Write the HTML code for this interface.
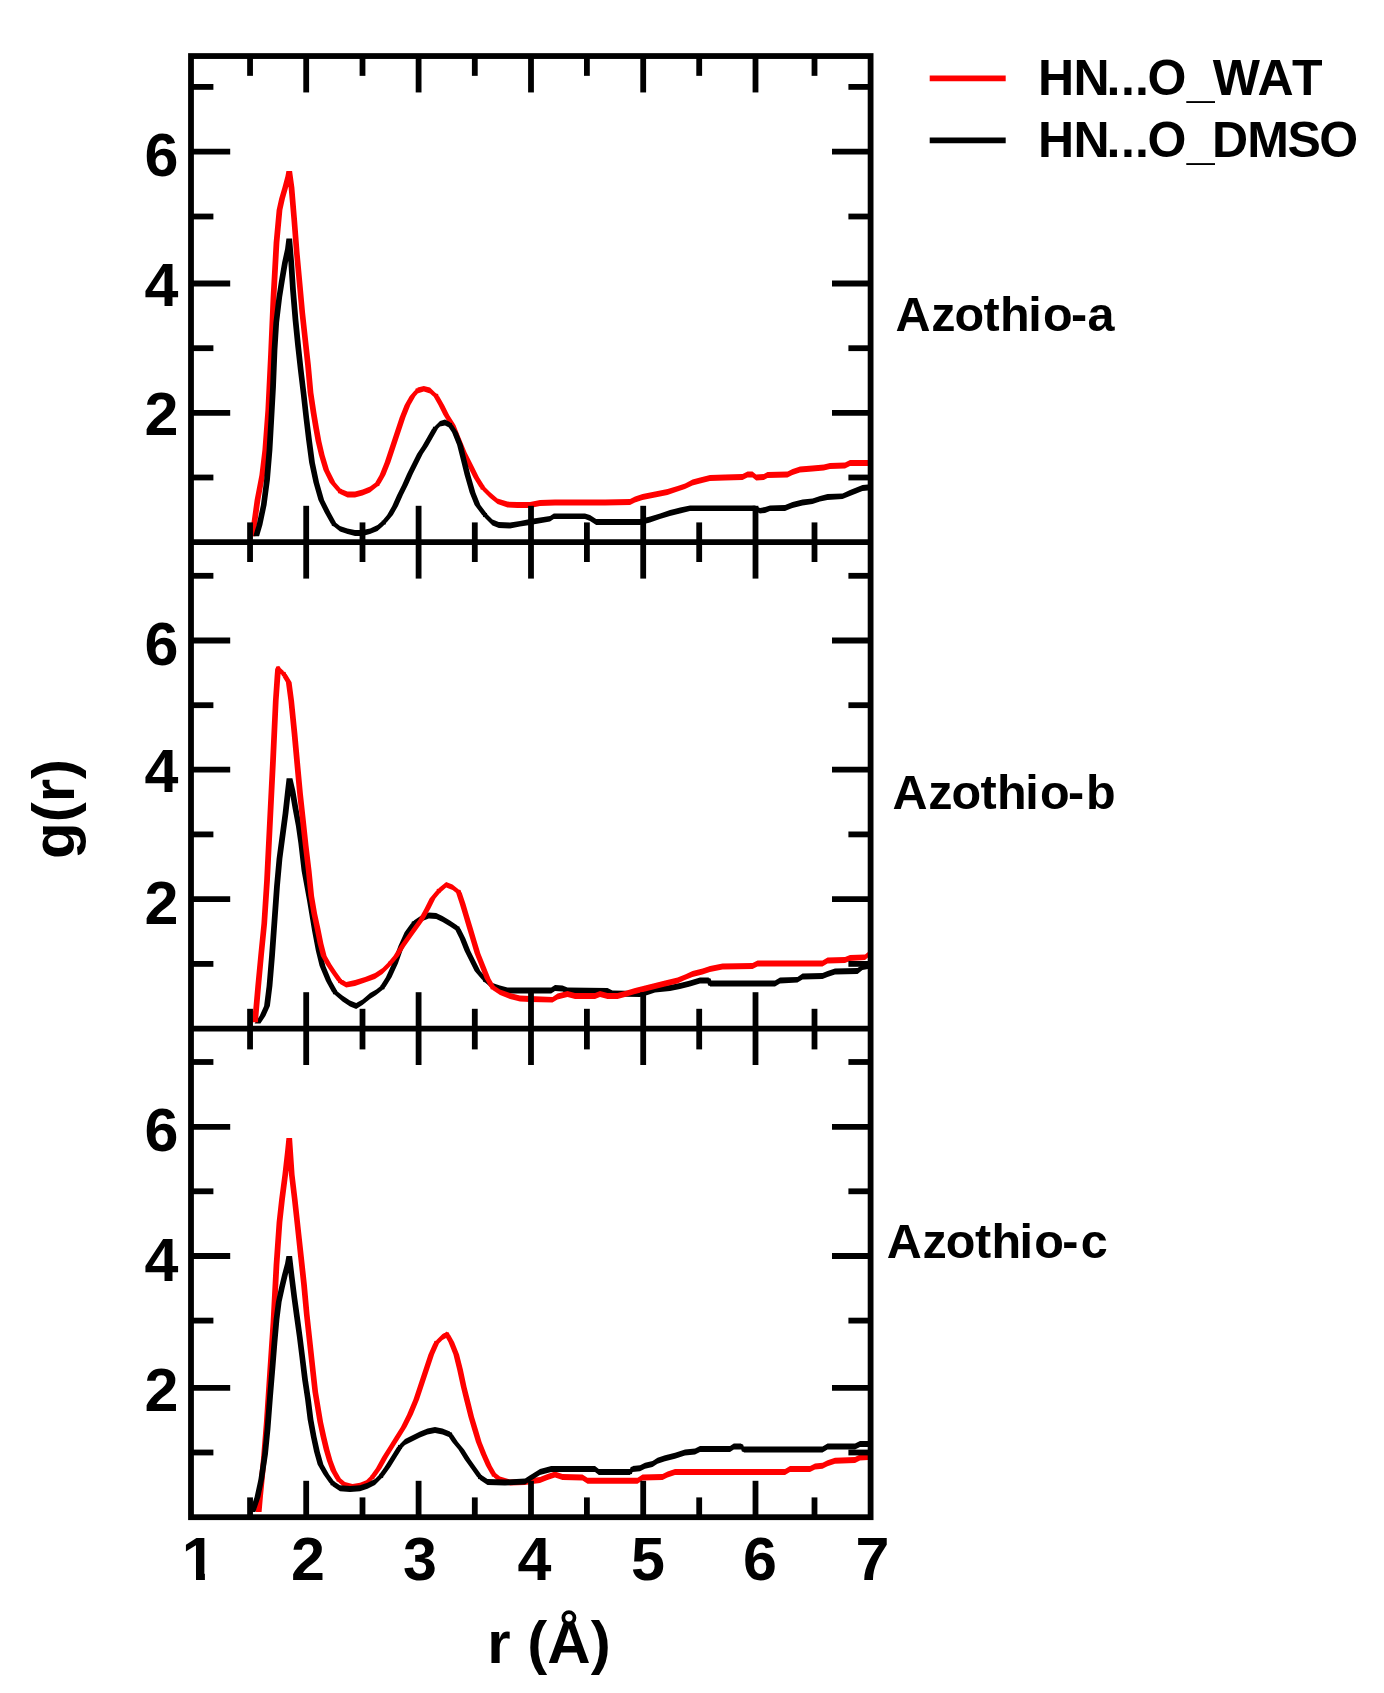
<!DOCTYPE html>
<html lang="en"><head><meta charset="utf-8"><title>g(r) HN...O radial distribution</title>
<style>html,body{margin:0;padding:0;background:#fff}svg{display:block}text{font-family:"Liberation Sans",sans-serif;font-weight:bold;fill:#000}</style>
</head><body>
<svg width="1384" height="1693" viewBox="0 0 1384 1693">
<rect x="0" y="0" width="1384" height="1693" fill="#fff"/>
<defs><clipPath id="c1"><rect x="191.0" y="56.0" width="679.6" height="486.2"/></clipPath>
<clipPath id="c2"><rect x="191.0" y="542.2" width="679.6" height="486.4"/></clipPath>
<clipPath id="c3"><rect x="191.0" y="1028.6" width="679.6" height="488.6"/></clipPath></defs>
<g clip-path="url(#c1)"><path d="M254.6 500.0L260.4 500.0L255.4 536.2L249.6 536.2ZM259.4 475.0L265.1 475.0L260.4 500.0L254.6 500.0ZM262.4 450.0L268.1 450.0L265.1 475.0L259.4 475.0ZM265.4 410.0L271.1 410.0L268.1 450.0L262.4 450.0ZM268.1 355.0L273.9 355.0L271.1 410.0L265.4 410.0ZM270.6 297.5L276.4 297.5L273.9 355.0L268.1 355.0ZM273.6 242.5L279.4 242.5L276.4 297.5L270.6 297.5ZM276.6 210.0L282.4 210.0L279.4 242.5L273.6 242.5ZM279.1 198.8L284.9 198.8L282.4 210.0L276.6 210.0ZM282.4 187.5L288.1 187.5L284.9 198.8L279.1 198.8ZM285.4 176.2L291.1 176.2L288.1 187.5L282.4 187.5ZM286.4 171.0L292.1 171.0L291.1 176.2L285.4 176.2ZM286.4 171.0L292.1 171.0L294.4 187.5L288.6 187.5ZM288.6 187.5L294.4 187.5L297.1 220.0L291.4 220.0ZM291.4 220.0L297.1 220.0L299.6 252.5L293.9 252.5ZM293.9 252.5L299.6 252.5L302.6 285.0L296.9 285.0ZM296.9 285.0L302.6 285.0L305.1 312.5L299.4 312.5ZM299.4 312.5L305.1 312.5L308.1 340.0L302.4 340.0ZM302.4 340.0L308.1 340.0L310.9 365.0L305.1 365.0ZM305.1 365.0L310.9 365.0L313.4 392.5L307.6 392.5ZM307.6 392.5L313.4 392.5L316.4 412.5L310.6 412.5ZM310.6 412.5L316.4 412.5L318.9 427.5L313.1 427.5ZM313.1 427.5L318.9 427.5L321.4 441.2L315.6 441.2ZM315.6 441.2L321.4 441.2L324.6 455.0L318.9 455.0ZM318.9 455.0L324.6 455.0L329.1 470.0L323.4 470.0ZM323.4 470.0L329.1 470.0L335.4 482.5L329.6 482.5ZM329.6 482.5L335.4 482.5L342.9 491.2L337.1 491.2ZM347.5 491.6L347.5 497.4L340.0 494.1L340.0 488.4ZM337.6 491.2a2.44 2.44 0 1 1 4.87 0a2.44 2.44 0 1 1 -4.87 0ZM355.0 491.6L355.0 497.4L347.5 497.4L347.5 491.6ZM362.5 489.6L362.5 495.4L355.0 497.4L355.0 491.6ZM370.0 486.6L370.0 492.4L362.5 495.4L362.5 489.6ZM377.5 480.9L377.5 486.6L370.0 492.4L370.0 486.6ZM379.6 475.0L385.4 475.0L380.4 483.8L374.6 483.8ZM375.1 483.8a2.44 2.44 0 1 1 4.87 0a2.44 2.44 0 1 1 -4.87 0ZM384.6 462.5L390.4 462.5L385.4 475.0L379.6 475.0ZM389.6 447.5L395.4 447.5L390.4 462.5L384.6 462.5ZM394.6 432.5L400.4 432.5L395.4 447.5L389.6 447.5ZM399.6 417.5L405.4 417.5L400.4 432.5L394.6 432.5ZM404.6 405.0L410.4 405.0L405.4 417.5L399.6 417.5ZM409.6 396.2L415.4 396.2L410.4 405.0L404.6 405.0ZM414.6 390.5L420.4 390.5L415.4 396.2L409.6 396.2ZM423.8 385.9L423.8 391.6L417.5 393.4L417.5 387.6ZM415.1 390.5a2.44 2.44 0 1 1 4.87 0a2.44 2.44 0 1 1 -4.87 0ZM430.0 387.6L430.0 393.4L423.8 391.6L423.8 385.9ZM436.2 393.4L436.2 399.1L430.0 393.4L430.0 387.6ZM433.4 396.2L439.1 396.2L444.1 405.0L438.4 405.0ZM433.8 396.2a2.44 2.44 0 1 1 4.87 0a2.44 2.44 0 1 1 -4.87 0ZM438.4 405.0L444.1 405.0L449.1 415.0L443.4 415.0ZM443.4 415.0L449.1 415.0L455.4 425.0L449.6 425.0ZM449.6 425.0L455.4 425.0L460.4 437.5L454.6 437.5ZM454.6 437.5L460.4 437.5L466.6 452.5L460.9 452.5ZM460.9 452.5L466.6 452.5L472.9 465.0L467.1 465.0ZM467.1 465.0L472.9 465.0L479.1 477.5L473.4 477.5ZM473.4 477.5L479.1 477.5L485.4 487.5L479.6 487.5ZM490.0 492.1L490.0 497.9L482.5 490.4L482.5 484.6ZM480.1 487.5a2.44 2.44 0 1 1 4.87 0a2.44 2.44 0 1 1 -4.87 0ZM497.5 498.4L497.5 504.1L490.0 497.9L490.0 492.1ZM507.5 501.6L507.5 507.4L497.5 504.1L497.5 498.4ZM517.5 502.1L517.5 507.9L507.5 507.4L507.5 501.6ZM530.0 502.1L530.0 507.9L517.5 507.9L517.5 502.1ZM540.0 500.1L540.0 505.9L530.0 507.9L530.0 502.1ZM555.0 499.6L555.0 505.4L540.0 505.9L540.0 500.1ZM580.0 499.6L580.0 505.4L555.0 505.4L555.0 499.6ZM605.0 499.6L605.0 505.4L580.0 505.4L580.0 499.6ZM630.0 499.1L630.0 504.9L605.0 505.4L605.0 499.6ZM635.0 496.6L635.0 502.4L630.0 504.9L630.0 499.1ZM642.5 494.1L642.5 499.9L635.0 502.4L635.0 496.6ZM655.0 491.6L655.0 497.4L642.5 499.9L642.5 494.1ZM667.5 489.1L667.5 494.9L655.0 497.4L655.0 491.6ZM677.5 485.9L677.5 491.6L667.5 494.9L667.5 489.1ZM685.0 483.4L685.0 489.1L677.5 491.6L677.5 485.9ZM692.5 479.6L692.5 485.4L685.0 489.1L685.0 483.4ZM700.0 477.6L700.0 483.4L692.5 485.4L692.5 479.6ZM710.0 475.1L710.0 480.9L700.0 483.4L700.0 477.6ZM725.0 474.6L725.0 480.4L710.0 480.9L710.0 475.1ZM742.5 474.1L742.5 479.9L725.0 480.4L725.0 474.6ZM747.5 471.6L747.5 477.4L742.5 479.9L742.5 474.1ZM752.5 471.6L752.5 477.4L747.5 477.4L747.5 471.6ZM756.2 474.6L756.2 480.4L752.5 477.4L752.5 471.6ZM763.8 474.1L763.8 479.9L756.2 480.4L756.2 474.6ZM767.5 472.1L767.5 477.9L763.8 479.9L763.8 474.1ZM787.5 471.6L787.5 477.4L767.5 477.9L767.5 472.1ZM792.5 469.1L792.5 474.9L787.5 477.4L787.5 471.6ZM800.0 466.6L800.0 472.4L792.5 474.9L792.5 469.1ZM812.5 465.6L812.5 471.4L800.0 472.4L800.0 466.6ZM823.8 464.6L823.8 470.4L812.5 471.4L812.5 465.6ZM830.0 463.1L830.0 468.9L823.8 470.4L823.8 464.6ZM845.0 462.6L845.0 468.4L830.0 468.9L830.0 463.1ZM850.0 460.1L850.0 465.9L845.0 468.4L845.0 462.6ZM868.0 460.1L868.0 465.9L850.0 465.9L850.0 460.1Z" fill="#f00" stroke="none"/><path d="M256.6 525.0L262.4 525.0L259.1 536.2L253.3 536.2ZM260.9 505.0L266.6 505.0L262.4 525.0L256.6 525.0ZM264.1 480.0L269.9 480.0L266.6 505.0L260.9 505.0ZM266.6 450.0L272.4 450.0L269.9 480.0L264.1 480.0ZM268.4 420.0L274.1 420.0L272.4 450.0L266.6 450.0ZM270.1 387.5L275.9 387.5L274.1 420.0L268.4 420.0ZM271.6 350.0L277.4 350.0L275.9 387.5L270.1 387.5ZM273.4 322.5L279.1 322.5L277.4 350.0L271.6 350.0ZM276.4 297.5L282.1 297.5L279.1 322.5L273.4 322.5ZM279.1 280.0L284.9 280.0L282.1 297.5L276.4 297.5ZM282.1 262.5L287.9 262.5L284.9 280.0L279.1 280.0ZM285.1 248.8L290.9 248.8L287.9 262.5L282.1 262.5ZM286.4 238.6L292.1 238.6L290.9 248.8L285.1 248.8ZM286.4 238.6L292.1 238.6L294.1 262.5L288.4 262.5ZM288.4 262.5L294.1 262.5L295.9 290.0L290.1 290.0ZM290.1 290.0L295.9 290.0L298.4 320.0L292.6 320.0ZM292.6 320.0L298.4 320.0L300.9 345.0L295.1 345.0ZM295.1 345.0L300.9 345.0L303.6 370.0L297.9 370.0ZM297.9 370.0L303.6 370.0L306.6 395.0L300.9 395.0ZM300.9 395.0L306.6 395.0L309.1 417.5L303.4 417.5ZM303.4 417.5L309.1 417.5L311.9 440.0L306.1 440.0ZM306.1 440.0L311.9 440.0L314.9 462.5L309.1 462.5ZM309.1 462.5L314.9 462.5L319.1 482.5L313.4 482.5ZM313.4 482.5L319.1 482.5L324.1 500.0L318.4 500.0ZM318.4 500.0L324.1 500.0L330.4 512.5L324.6 512.5ZM324.6 512.5L330.4 512.5L336.6 523.8L330.9 523.8ZM340.0 525.9L340.0 531.6L333.8 526.6L333.8 520.9ZM331.3 523.8a2.44 2.44 0 1 1 4.87 0a2.44 2.44 0 1 1 -4.87 0ZM347.5 528.4L347.5 534.1L340.0 531.6L340.0 525.9ZM355.0 530.1L355.0 535.9L347.5 534.1L347.5 528.4ZM362.5 530.1L362.5 535.9L355.0 535.9L355.0 530.1ZM370.0 528.4L370.0 534.1L362.5 535.9L362.5 530.1ZM377.5 525.1L377.5 530.9L370.0 534.1L370.0 528.4ZM383.8 519.6L383.8 525.4L377.5 530.9L377.5 525.1ZM387.1 515.0L392.9 515.0L386.6 522.5L380.9 522.5ZM381.3 522.5a2.44 2.44 0 1 1 4.87 0a2.44 2.44 0 1 1 -4.87 0ZM392.1 506.2L397.9 506.2L392.9 515.0L387.1 515.0ZM397.1 495.0L402.9 495.0L397.9 506.2L392.1 506.2ZM402.1 485.0L407.9 485.0L402.9 495.0L397.1 495.0ZM407.1 473.8L412.9 473.8L407.9 485.0L402.1 485.0ZM412.1 463.8L417.9 463.8L412.9 473.8L407.1 473.8ZM417.1 453.8L422.9 453.8L417.9 463.8L412.1 463.8ZM422.1 446.2L427.9 446.2L422.9 453.8L417.1 453.8ZM427.1 437.5L432.9 437.5L427.9 446.2L422.1 446.2ZM432.1 428.8L437.9 428.8L432.9 437.5L427.1 437.5ZM440.0 420.9L440.0 426.6L435.0 431.6L435.0 425.9ZM432.6 428.8a2.44 2.44 0 1 1 4.87 0a2.44 2.44 0 1 1 -4.87 0ZM445.0 419.6L445.0 425.4L440.0 426.6L440.0 420.9ZM450.0 422.1L450.0 427.9L445.0 425.4L445.0 419.6ZM447.1 425.0L452.9 425.0L457.9 432.5L452.1 432.5ZM447.6 425.0a2.44 2.44 0 1 1 4.87 0a2.44 2.44 0 1 1 -4.87 0ZM452.1 432.5L457.9 432.5L462.9 445.0L457.1 445.0ZM457.1 445.0L462.9 445.0L466.6 460.0L460.9 460.0ZM460.9 460.0L466.6 460.0L470.4 475.0L464.6 475.0ZM464.6 475.0L470.4 475.0L475.4 492.5L469.6 492.5ZM469.6 492.5L475.4 492.5L480.4 505.0L474.6 505.0ZM474.6 505.0L480.4 505.0L487.9 515.0L482.1 515.0ZM492.5 519.6L492.5 525.4L485.0 517.9L485.0 512.1ZM482.6 515.0a2.44 2.44 0 1 1 4.87 0a2.44 2.44 0 1 1 -4.87 0ZM498.8 522.1L498.8 527.9L492.5 525.4L492.5 519.6ZM510.0 522.6L510.0 528.4L498.8 527.9L498.8 522.1ZM520.0 520.9L520.0 526.6L510.0 528.4L510.0 522.6ZM530.0 519.1L530.0 524.9L520.0 526.6L520.0 520.9ZM550.0 515.9L550.0 521.6L530.0 524.9L530.0 519.1ZM553.8 513.4L553.8 519.1L550.0 521.6L550.0 515.9ZM585.0 513.4L585.0 519.1L553.8 519.1L553.8 513.4ZM590.0 515.1L590.0 520.9L585.0 519.1L585.0 513.4ZM596.2 519.1L596.2 524.9L590.0 520.9L590.0 515.1ZM640.0 519.1L640.0 524.9L596.2 524.9L596.2 519.1ZM650.0 516.6L650.0 522.4L640.0 524.9L640.0 519.1ZM660.0 513.4L660.0 519.1L650.0 522.4L650.0 516.6ZM670.0 510.1L670.0 515.9L660.0 519.1L660.0 513.4ZM680.0 507.6L680.0 513.4L670.0 515.9L670.0 510.1ZM690.0 505.4L690.0 511.1L680.0 513.4L680.0 507.6ZM755.0 505.4L755.0 511.1L690.0 511.1L690.0 505.4ZM760.0 507.9L760.0 513.6L755.0 511.1L755.0 505.4ZM765.0 507.1L765.0 512.9L760.0 513.6L760.0 507.9ZM770.0 505.4L770.0 511.1L765.0 512.9L765.0 507.1ZM785.0 505.1L785.0 510.9L770.0 511.1L770.0 505.4ZM792.5 502.1L792.5 507.9L785.0 510.9L785.0 505.1ZM802.5 499.6L802.5 505.4L792.5 507.9L792.5 502.1ZM812.5 498.4L812.5 504.1L802.5 505.4L802.5 499.6ZM820.0 495.9L820.0 501.6L812.5 504.1L812.5 498.4ZM827.5 494.1L827.5 499.9L820.0 501.6L820.0 495.9ZM842.5 493.4L842.5 499.1L827.5 499.9L827.5 494.1ZM850.0 490.1L850.0 495.9L842.5 499.1L842.5 493.4ZM857.5 487.1L857.5 492.9L850.0 495.9L850.0 490.1ZM862.5 485.1L862.5 490.9L857.5 492.9L857.5 487.1ZM868.0 484.6L868.0 490.4L862.5 490.9L862.5 485.1Z" fill="#000" stroke="none"/></g>
<g clip-path="url(#c2)"><path d="M259.6 1016.0L265.4 1016.0L260.4 1023.5L254.6 1023.5ZM264.1 1006.0L269.9 1006.0L265.4 1016.0L259.6 1016.0ZM266.6 986.0L272.4 986.0L269.9 1006.0L264.1 1006.0ZM269.1 956.0L274.9 956.0L272.4 986.0L266.6 986.0ZM271.6 921.0L277.4 921.0L274.9 956.0L269.1 956.0ZM274.1 886.0L279.9 886.0L277.4 921.0L271.6 921.0ZM276.6 858.5L282.4 858.5L279.9 886.0L274.1 886.0ZM279.6 836.0L285.4 836.0L282.4 858.5L276.6 858.5ZM282.6 813.5L288.4 813.5L285.4 836.0L279.6 836.0ZM285.1 791.0L290.9 791.0L288.4 813.5L282.6 813.5ZM286.6 778.2L292.4 778.2L290.9 791.0L285.1 791.0ZM286.6 778.2L292.4 778.2L295.4 791.0L289.6 791.0ZM289.6 791.0L295.4 791.0L298.4 808.5L292.6 808.5ZM292.6 808.5L298.4 808.5L301.6 826.0L295.9 826.0ZM295.9 826.0L301.6 826.0L304.1 843.5L298.4 843.5ZM298.4 843.5L304.1 843.5L307.4 871.0L301.6 871.0ZM301.6 871.0L307.4 871.0L312.9 901.0L307.1 901.0ZM307.1 901.0L312.9 901.0L317.9 931.0L312.1 931.0ZM312.1 931.0L317.9 931.0L321.6 951.0L315.9 951.0ZM315.9 951.0L321.6 951.0L325.4 966.0L319.6 966.0ZM319.6 966.0L325.4 966.0L331.6 981.0L325.9 981.0ZM325.9 981.0L331.6 981.0L337.9 992.2L332.1 992.2ZM342.5 995.6L342.5 1001.4L335.0 995.1L335.0 989.4ZM332.6 992.2a2.44 2.44 0 1 1 4.87 0a2.44 2.44 0 1 1 -4.87 0ZM350.0 1000.6L350.0 1006.4L342.5 1001.4L342.5 995.6ZM356.2 1003.1L356.2 1008.9L350.0 1006.4L350.0 1000.6ZM362.5 999.4L362.5 1005.1L356.2 1008.9L356.2 1003.1ZM370.0 993.1L370.0 998.9L362.5 1005.1L362.5 999.4ZM376.2 989.4L376.2 995.1L370.0 998.9L370.0 993.1ZM382.5 984.4L382.5 990.1L376.2 995.1L376.2 989.4ZM385.9 977.2L391.6 977.2L385.4 987.2L379.6 987.2ZM380.1 987.2a2.44 2.44 0 1 1 4.87 0a2.44 2.44 0 1 1 -4.87 0ZM392.1 963.5L397.9 963.5L391.6 977.2L385.9 977.2ZM398.4 946.0L404.1 946.0L397.9 963.5L392.1 963.5ZM404.6 932.2L410.4 932.2L404.1 946.0L398.4 946.0ZM410.9 923.5L416.6 923.5L410.4 932.2L404.6 932.2ZM421.2 915.6L421.2 921.4L413.8 926.4L413.8 920.6ZM411.3 923.5a2.44 2.44 0 1 1 4.87 0a2.44 2.44 0 1 1 -4.87 0ZM428.8 912.6L428.8 918.4L421.2 921.4L421.2 915.6ZM436.2 913.1L436.2 918.9L428.8 918.4L428.8 912.6ZM442.5 916.1L442.5 921.9L436.2 918.9L436.2 913.1ZM450.0 920.6L450.0 926.4L442.5 921.9L442.5 916.1ZM457.5 925.6L457.5 931.4L450.0 926.4L450.0 920.6ZM454.6 928.5L460.4 928.5L465.4 938.5L459.6 938.5ZM455.1 928.5a2.44 2.44 0 1 1 4.87 0a2.44 2.44 0 1 1 -4.87 0ZM459.6 938.5L465.4 938.5L470.4 951.0L464.6 951.0ZM464.6 951.0L470.4 951.0L475.4 961.0L469.6 961.0ZM469.6 961.0L475.4 961.0L480.4 971.0L474.6 971.0ZM474.6 971.0L480.4 971.0L487.9 979.8L482.1 979.8ZM492.5 983.1L492.5 988.9L485.0 982.6L485.0 976.9ZM482.6 979.8a2.44 2.44 0 1 1 4.87 0a2.44 2.44 0 1 1 -4.87 0ZM500.0 985.6L500.0 991.4L492.5 988.9L492.5 983.1ZM507.5 987.6L507.5 993.4L500.0 991.4L500.0 985.6ZM530.0 987.6L530.0 993.4L507.5 993.4L507.5 987.6ZM551.2 987.6L551.2 993.4L530.0 993.4L530.0 987.6ZM555.0 985.1L555.0 990.9L551.2 993.4L551.2 987.6ZM562.5 985.6L562.5 991.4L555.0 990.9L555.0 985.1ZM567.5 987.6L567.5 993.4L562.5 991.4L562.5 985.6ZM607.5 988.1L607.5 993.9L567.5 993.4L567.5 987.6ZM612.5 990.6L612.5 996.4L607.5 993.9L607.5 988.1ZM640.0 991.1L640.0 996.9L612.5 996.4L612.5 990.6ZM647.5 989.4L647.5 995.1L640.0 996.9L640.0 991.1ZM655.0 986.9L655.0 992.6L647.5 995.1L647.5 989.4ZM670.0 985.1L670.0 990.9L655.0 992.6L655.0 986.9ZM680.0 983.1L680.0 988.9L670.0 990.9L670.0 985.1ZM690.0 980.6L690.0 986.4L680.0 988.9L680.0 983.1ZM700.0 977.6L700.0 983.4L690.0 986.4L690.0 980.6ZM708.8 977.6L708.8 983.4L700.0 983.4L700.0 977.6ZM705.9 980.5L711.6 980.5L712.9 983.5L707.1 983.5ZM706.3 980.5a2.44 2.44 0 1 1 4.87 0a2.44 2.44 0 1 1 -4.87 0ZM775.0 980.6L775.0 986.4L710.0 986.4L710.0 980.6ZM707.6 983.5a2.44 2.44 0 1 1 4.87 0a2.44 2.44 0 1 1 -4.87 0ZM780.0 977.6L780.0 983.4L775.0 986.4L775.0 980.6ZM797.5 976.9L797.5 982.6L780.0 983.4L780.0 977.6ZM802.5 973.6L802.5 979.4L797.5 982.6L797.5 976.9ZM822.5 973.1L822.5 978.9L802.5 979.4L802.5 973.6ZM827.5 971.1L827.5 976.9L822.5 978.9L822.5 973.1ZM835.0 968.6L835.0 974.4L827.5 976.9L827.5 971.1ZM857.5 968.1L857.5 973.9L835.0 974.4L835.0 968.6ZM862.5 964.4L862.5 970.1L857.5 973.9L857.5 968.1ZM868.0 963.1L868.0 968.9L862.5 970.1L862.5 964.4Z" fill="#000" stroke="none"/><path d="M255.3 986.0L261.1 986.0L257.9 1022.2L252.1 1022.2ZM258.4 953.5L264.1 953.5L261.1 986.0L255.3 986.0ZM261.4 923.5L267.1 923.5L264.1 953.5L258.4 953.5ZM264.1 881.0L269.9 881.0L267.1 923.5L261.4 923.5ZM267.1 821.0L272.9 821.0L269.9 881.0L264.1 881.0ZM270.1 761.0L275.9 761.0L272.9 821.0L267.1 821.0ZM272.9 701.0L278.6 701.0L275.9 761.0L270.1 761.0ZM274.6 676.0L280.4 676.0L278.6 701.0L272.9 701.0ZM275.2 668.6L281.0 668.6L280.4 676.0L274.6 676.0ZM283.8 671.1L283.8 676.9L278.1 671.5L278.1 665.7ZM275.7 668.6a2.44 2.44 0 1 1 4.87 0a2.44 2.44 0 1 1 -4.87 0ZM280.9 674.0L286.6 674.0L291.6 682.2L285.9 682.2ZM281.3 674.0a2.44 2.44 0 1 1 4.87 0a2.44 2.44 0 1 1 -4.87 0ZM285.9 682.2L291.6 682.2L294.1 701.0L288.4 701.0ZM288.4 701.0L294.1 701.0L297.4 733.5L291.6 733.5ZM291.6 733.5L297.4 733.5L299.9 761.0L294.1 761.0ZM294.1 761.0L299.9 761.0L302.9 793.5L297.1 793.5ZM297.1 793.5L302.9 793.5L305.9 821.0L300.1 821.0ZM300.1 821.0L305.9 821.0L308.6 846.0L302.9 846.0ZM302.9 846.0L308.6 846.0L311.6 871.0L305.9 871.0ZM305.9 871.0L311.6 871.0L314.1 896.0L308.4 896.0ZM308.4 896.0L314.1 896.0L317.1 913.5L311.4 913.5ZM311.4 913.5L317.1 913.5L320.4 928.5L314.6 928.5ZM314.6 928.5L320.4 928.5L323.4 943.5L317.6 943.5ZM317.6 943.5L323.4 943.5L326.6 956.0L320.9 956.0ZM320.9 956.0L326.6 956.0L331.6 964.8L325.9 964.8ZM325.9 964.8L331.6 964.8L336.6 972.2L330.9 972.2ZM330.9 972.2L336.6 972.2L342.9 981.0L337.1 981.0ZM346.2 981.9L346.2 987.6L340.0 983.9L340.0 978.1ZM337.6 981.0a2.44 2.44 0 1 1 4.87 0a2.44 2.44 0 1 1 -4.87 0ZM355.0 980.1L355.0 985.9L346.2 987.6L346.2 981.9ZM365.0 976.9L365.0 982.6L355.0 985.9L355.0 980.1ZM375.0 973.1L375.0 978.9L365.0 982.6L365.0 976.9ZM382.5 968.1L382.5 973.9L375.0 978.9L375.0 973.1ZM390.0 960.6L390.0 966.4L382.5 973.9L382.5 968.1ZM393.4 956.0L399.1 956.0L392.9 963.5L387.1 963.5ZM387.6 963.5a2.44 2.44 0 1 1 4.87 0a2.44 2.44 0 1 1 -4.87 0ZM399.6 946.0L405.4 946.0L399.1 956.0L393.4 956.0ZM405.9 937.2L411.6 937.2L405.4 946.0L399.6 946.0ZM412.1 928.5L417.9 928.5L411.6 937.2L405.9 937.2ZM418.4 919.8L424.1 919.8L417.9 928.5L412.1 928.5ZM424.6 908.5L430.4 908.5L424.1 919.8L418.4 919.8ZM429.6 898.5L435.4 898.5L430.4 908.5L424.6 908.5ZM435.9 891.0L441.6 891.0L435.4 898.5L429.6 898.5ZM446.2 881.9L446.2 887.6L438.8 893.9L438.8 888.1ZM436.3 891.0a2.44 2.44 0 1 1 4.87 0a2.44 2.44 0 1 1 -4.87 0ZM452.5 884.4L452.5 890.1L446.2 887.6L446.2 881.9ZM458.8 889.4L458.8 895.1L452.5 890.1L452.5 884.4ZM455.9 892.2L461.6 892.2L465.4 903.5L459.6 903.5ZM456.3 892.2a2.44 2.44 0 1 1 4.87 0a2.44 2.44 0 1 1 -4.87 0ZM459.6 903.5L465.4 903.5L469.1 916.0L463.4 916.0ZM463.4 916.0L469.1 916.0L472.9 928.5L467.1 928.5ZM467.1 928.5L472.9 928.5L476.6 941.0L470.9 941.0ZM470.9 941.0L476.6 941.0L480.4 953.5L474.6 953.5ZM474.6 953.5L480.4 953.5L485.4 966.0L479.6 966.0ZM479.6 966.0L485.4 966.0L490.4 978.5L484.6 978.5ZM484.6 978.5L490.4 978.5L495.4 987.2L489.6 987.2ZM500.0 989.4L500.0 995.1L492.5 990.1L492.5 984.4ZM490.1 987.2a2.44 2.44 0 1 1 4.87 0a2.44 2.44 0 1 1 -4.87 0ZM510.0 993.1L510.0 998.9L500.0 995.1L500.0 989.4ZM520.0 995.6L520.0 1001.4L510.0 998.9L510.0 993.1ZM530.0 996.1L530.0 1001.9L520.0 1001.4L520.0 995.6ZM552.5 996.9L552.5 1002.6L530.0 1001.9L530.0 996.1ZM557.5 993.6L557.5 999.4L552.5 1002.6L552.5 996.9ZM567.5 991.1L567.5 996.9L557.5 999.4L557.5 993.6ZM575.0 993.1L575.0 998.9L567.5 996.9L567.5 991.1ZM595.0 993.1L595.0 998.9L575.0 998.9L575.0 993.1ZM600.0 991.1L600.0 996.9L595.0 998.9L595.0 993.1ZM607.5 993.1L607.5 998.9L600.0 996.9L600.0 991.1ZM617.5 993.1L617.5 998.9L607.5 998.9L607.5 993.1ZM625.0 991.1L625.0 996.9L617.5 998.9L617.5 993.1ZM635.0 988.1L635.0 993.9L625.0 996.9L625.0 991.1ZM645.0 985.6L645.0 991.4L635.0 993.9L635.0 988.1ZM655.0 983.1L655.0 988.9L645.0 991.4L645.0 985.6ZM665.0 980.6L665.0 986.4L655.0 988.9L655.0 983.1ZM677.5 977.6L677.5 983.4L665.0 986.4L665.0 980.6ZM685.0 974.4L685.0 980.1L677.5 983.4L677.5 977.6ZM692.5 971.1L692.5 976.9L685.0 980.1L685.0 974.4ZM702.5 968.6L702.5 974.4L692.5 976.9L692.5 971.1ZM710.0 966.1L710.0 971.9L702.5 974.4L702.5 968.6ZM722.5 963.6L722.5 969.4L710.0 971.9L710.0 966.1ZM752.5 963.1L752.5 968.9L722.5 969.4L722.5 963.6ZM757.5 960.6L757.5 966.4L752.5 968.9L752.5 963.1ZM822.5 960.6L822.5 966.4L757.5 966.4L757.5 960.6ZM827.5 957.6L827.5 963.4L822.5 966.4L822.5 960.6ZM845.0 957.1L845.0 962.9L827.5 963.4L827.5 957.6ZM850.0 955.1L850.0 960.9L845.0 962.9L845.0 957.1ZM865.0 954.4L865.0 960.1L850.0 960.9L850.0 955.1ZM868.0 951.9L868.0 957.6L865.0 960.1L865.0 954.4Z" fill="#f00" stroke="none"/></g>
<g clip-path="url(#c3)"><path d="M257.1 1497.0L262.9 1497.0L261.6 1512.0L255.8 1512.0ZM260.9 1459.5L266.6 1459.5L262.9 1497.0L257.1 1497.0ZM263.9 1422.0L269.6 1422.0L266.6 1459.5L260.9 1459.5ZM266.4 1384.5L272.1 1384.5L269.6 1422.0L263.9 1422.0ZM268.9 1347.0L274.6 1347.0L272.1 1384.5L266.4 1384.5ZM270.6 1322.0L276.4 1322.0L274.6 1347.0L268.9 1347.0ZM273.6 1264.5L279.4 1264.5L276.4 1322.0L270.6 1322.0ZM276.6 1222.0L282.4 1222.0L279.4 1264.5L273.6 1264.5ZM279.1 1199.5L284.9 1199.5L282.4 1222.0L276.6 1222.0ZM282.4 1174.5L288.1 1174.5L284.9 1199.5L279.1 1199.5ZM285.1 1150.8L290.9 1150.8L288.1 1174.5L282.4 1174.5ZM286.4 1137.9L292.1 1137.9L290.9 1150.8L285.1 1150.8ZM286.4 1137.9L292.1 1137.9L294.6 1174.5L288.9 1174.5ZM288.9 1174.5L294.6 1174.5L297.6 1199.5L291.9 1199.5ZM291.9 1199.5L297.6 1199.5L300.6 1227.0L294.9 1227.0ZM294.9 1227.0L300.6 1227.0L303.9 1257.0L298.1 1257.0ZM298.1 1257.0L303.9 1257.0L306.9 1284.5L301.1 1284.5ZM301.1 1284.5L306.9 1284.5L309.6 1314.5L303.9 1314.5ZM303.9 1314.5L309.6 1314.5L312.6 1342.0L306.9 1342.0ZM306.9 1342.0L312.6 1342.0L315.6 1369.5L309.9 1369.5ZM309.9 1369.5L315.6 1369.5L318.1 1392.0L312.4 1392.0ZM312.4 1392.0L318.1 1392.0L320.6 1407.0L314.9 1407.0ZM314.9 1407.0L320.6 1407.0L323.1 1422.0L317.4 1422.0ZM317.4 1422.0L323.1 1422.0L326.4 1437.0L320.6 1437.0ZM320.6 1437.0L326.4 1437.0L329.4 1449.5L323.6 1449.5ZM323.6 1449.5L329.4 1449.5L332.6 1460.8L326.9 1460.8ZM326.9 1460.8L332.6 1460.8L336.4 1470.8L330.6 1470.8ZM330.6 1470.8L336.4 1470.8L341.4 1479.5L335.6 1479.5ZM345.0 1482.1L345.0 1487.9L338.5 1482.4L338.5 1476.6ZM336.1 1479.5a2.44 2.44 0 1 1 4.87 0a2.44 2.44 0 1 1 -4.87 0ZM352.5 1484.1L352.5 1489.9L345.0 1487.9L345.0 1482.1ZM360.0 1482.8L360.0 1488.7L352.5 1489.9L352.5 1484.1ZM366.2 1480.3L366.2 1486.2L360.0 1488.7L360.0 1482.8ZM372.5 1474.1L372.5 1479.9L366.2 1486.2L366.2 1480.3ZM375.9 1468.2L381.6 1468.2L375.4 1477.0L369.6 1477.0ZM370.1 1477.0a2.44 2.44 0 1 1 4.87 0a2.44 2.44 0 1 1 -4.87 0ZM382.1 1457.0L387.9 1457.0L381.6 1468.2L375.9 1468.2ZM388.4 1447.0L394.1 1447.0L387.9 1457.0L382.1 1457.0ZM394.6 1437.0L400.4 1437.0L394.1 1447.0L388.4 1447.0ZM400.9 1427.0L406.6 1427.0L400.4 1437.0L394.6 1437.0ZM407.1 1414.5L412.9 1414.5L406.6 1427.0L400.9 1427.0ZM413.4 1399.5L419.1 1399.5L412.9 1414.5L407.1 1414.5ZM418.4 1384.5L424.1 1384.5L419.1 1399.5L413.4 1399.5ZM423.4 1369.5L429.1 1369.5L424.1 1384.5L418.4 1384.5ZM428.4 1354.5L434.1 1354.5L429.1 1369.5L423.4 1369.5ZM433.4 1343.2L439.1 1343.2L434.1 1354.5L428.4 1354.5ZM442.5 1334.1L442.5 1339.9L436.2 1346.2L436.2 1340.3ZM433.8 1343.2a2.44 2.44 0 1 1 4.87 0a2.44 2.44 0 1 1 -4.87 0ZM447.0 1331.6L447.0 1337.4L442.5 1339.9L442.5 1334.1ZM444.1 1334.5L449.9 1334.5L454.1 1342.0L448.4 1342.0ZM444.6 1334.5a2.44 2.44 0 1 1 4.87 0a2.44 2.44 0 1 1 -4.87 0ZM448.4 1342.0L454.1 1342.0L459.1 1354.5L453.4 1354.5ZM453.4 1354.5L459.1 1354.5L462.9 1369.5L457.1 1369.5ZM457.1 1369.5L462.9 1369.5L466.6 1387.0L460.9 1387.0ZM460.9 1387.0L466.6 1387.0L470.4 1402.0L464.6 1402.0ZM464.6 1402.0L470.4 1402.0L474.1 1417.0L468.4 1417.0ZM468.4 1417.0L474.1 1417.0L477.9 1429.5L472.1 1429.5ZM472.1 1429.5L477.9 1429.5L481.6 1442.0L475.9 1442.0ZM475.9 1442.0L481.6 1442.0L486.6 1454.5L480.9 1454.5ZM480.9 1454.5L486.6 1454.5L491.6 1465.8L485.9 1465.8ZM485.9 1465.8L491.6 1465.8L496.6 1474.5L490.9 1474.5ZM500.0 1476.6L500.0 1482.4L493.8 1477.4L493.8 1471.6ZM491.3 1474.5a2.44 2.44 0 1 1 4.87 0a2.44 2.44 0 1 1 -4.87 0ZM510.0 1479.6L510.0 1485.4L500.0 1482.4L500.0 1476.6ZM525.0 1479.1L525.0 1484.9L510.0 1485.4L510.0 1479.6ZM530.0 1478.3L530.0 1484.2L525.0 1484.9L525.0 1479.1ZM540.0 1477.1L540.0 1482.9L530.0 1484.2L530.0 1478.3ZM547.5 1474.1L547.5 1479.9L540.0 1482.9L540.0 1477.1ZM555.0 1471.6L555.0 1477.4L547.5 1479.9L547.5 1474.1ZM562.5 1474.1L562.5 1479.9L555.0 1477.4L555.0 1471.6ZM582.5 1474.6L582.5 1480.4L562.5 1479.9L562.5 1474.1ZM587.5 1477.8L587.5 1483.7L582.5 1480.4L582.5 1474.6ZM637.5 1477.8L637.5 1483.7L587.5 1483.7L587.5 1477.8ZM642.5 1474.6L642.5 1480.4L637.5 1483.7L637.5 1477.8ZM662.5 1474.1L662.5 1479.9L642.5 1480.4L642.5 1474.6ZM667.5 1471.6L667.5 1477.4L662.5 1479.9L662.5 1474.1ZM675.0 1469.1L675.0 1474.9L667.5 1477.4L667.5 1471.6ZM785.0 1469.1L785.0 1474.9L675.0 1474.9L675.0 1469.1ZM790.0 1466.1L790.0 1471.9L785.0 1474.9L785.0 1469.1ZM810.0 1466.1L810.0 1471.9L790.0 1471.9L790.0 1466.1ZM815.0 1463.6L815.0 1469.4L810.0 1471.9L810.0 1466.1ZM822.5 1462.8L822.5 1468.7L815.0 1469.4L815.0 1463.6ZM827.5 1460.3L827.5 1466.2L822.5 1468.7L822.5 1462.8ZM835.0 1457.8L835.0 1463.7L827.5 1466.2L827.5 1460.3ZM855.0 1457.1L855.0 1462.9L835.0 1463.7L835.0 1457.8ZM860.0 1454.6L860.0 1460.4L855.0 1462.9L855.0 1457.1ZM868.0 1454.1L868.0 1459.9L860.0 1460.4L860.0 1454.6Z" fill="#f00" stroke="none"/><path d="M254.6 1497.0L260.4 1497.0L255.4 1512.0L249.6 1512.0ZM258.4 1479.5L264.1 1479.5L260.4 1497.0L254.6 1497.0ZM262.1 1454.5L267.9 1454.5L264.1 1479.5L258.4 1479.5ZM264.6 1429.5L270.4 1429.5L267.9 1454.5L262.1 1454.5ZM267.1 1397.0L272.9 1397.0L270.4 1429.5L264.6 1429.5ZM269.6 1367.0L275.4 1367.0L272.9 1397.0L267.1 1397.0ZM271.6 1342.0L277.4 1342.0L275.4 1367.0L269.6 1367.0ZM273.6 1319.5L279.4 1319.5L277.4 1342.0L271.6 1342.0ZM275.9 1302.0L281.6 1302.0L279.4 1319.5L273.6 1319.5ZM279.1 1287.0L284.9 1287.0L281.6 1302.0L275.9 1302.0ZM282.1 1274.5L287.9 1274.5L284.9 1287.0L279.1 1287.0ZM285.1 1263.2L290.9 1263.2L287.9 1274.5L282.1 1274.5ZM286.4 1256.1L292.1 1256.1L290.9 1263.2L285.1 1263.2ZM286.4 1256.1L292.1 1256.1L294.6 1277.0L288.9 1277.0ZM288.9 1277.0L294.6 1277.0L297.1 1297.0L291.4 1297.0ZM291.4 1297.0L297.1 1297.0L299.9 1317.0L294.1 1317.0ZM294.1 1317.0L299.9 1317.0L302.6 1337.0L296.9 1337.0ZM296.9 1337.0L302.6 1337.0L305.1 1357.0L299.4 1357.0ZM299.4 1357.0L305.1 1357.0L307.9 1379.5L302.1 1379.5ZM302.1 1379.5L307.9 1379.5L310.9 1399.5L305.1 1399.5ZM305.1 1399.5L310.9 1399.5L313.4 1419.5L307.6 1419.5ZM307.6 1419.5L313.4 1419.5L316.6 1437.0L310.9 1437.0ZM310.9 1437.0L316.6 1437.0L319.9 1452.0L314.1 1452.0ZM314.1 1452.0L319.9 1452.0L323.4 1464.5L317.6 1464.5ZM317.6 1464.5L323.4 1464.5L329.1 1474.5L323.4 1474.5ZM323.4 1474.5L329.1 1474.5L335.4 1483.2L329.6 1483.2ZM340.0 1485.3L340.0 1491.2L332.5 1486.2L332.5 1480.3ZM330.1 1483.2a2.44 2.44 0 1 1 4.87 0a2.44 2.44 0 1 1 -4.87 0ZM350.0 1486.1L350.0 1491.9L340.0 1491.2L340.0 1485.3ZM360.0 1485.3L360.0 1491.2L350.0 1491.9L350.0 1486.1ZM367.5 1482.8L367.5 1488.7L360.0 1491.2L360.0 1485.3ZM375.0 1479.1L375.0 1484.9L367.5 1488.7L367.5 1482.8ZM381.2 1472.8L381.2 1478.7L375.0 1484.9L375.0 1479.1ZM384.6 1467.0L390.4 1467.0L384.1 1475.8L378.4 1475.8ZM378.8 1475.8a2.44 2.44 0 1 1 4.87 0a2.44 2.44 0 1 1 -4.87 0ZM390.9 1457.0L396.6 1457.0L390.4 1467.0L384.6 1467.0ZM397.1 1447.0L402.9 1447.0L396.6 1457.0L390.9 1457.0ZM405.0 1439.1L405.0 1444.9L400.0 1449.9L400.0 1444.1ZM397.6 1447.0a2.44 2.44 0 1 1 4.87 0a2.44 2.44 0 1 1 -4.87 0ZM412.5 1435.3L412.5 1441.2L405.0 1444.9L405.0 1439.1ZM420.0 1431.6L420.0 1437.4L412.5 1441.2L412.5 1435.3ZM427.5 1428.6L427.5 1434.4L420.0 1437.4L420.0 1431.6ZM435.0 1427.1L435.0 1432.9L427.5 1434.4L427.5 1428.6ZM442.5 1428.6L442.5 1434.4L435.0 1432.9L435.0 1427.1ZM450.0 1431.6L450.0 1437.4L442.5 1434.4L442.5 1428.6ZM447.1 1434.5L452.9 1434.5L457.9 1442.0L452.1 1442.0ZM447.6 1434.5a2.44 2.44 0 1 1 4.87 0a2.44 2.44 0 1 1 -4.87 0ZM452.1 1442.0L457.9 1442.0L464.1 1449.5L458.4 1449.5ZM458.4 1449.5L464.1 1449.5L470.4 1459.5L464.6 1459.5ZM464.6 1459.5L470.4 1459.5L476.6 1468.2L470.9 1468.2ZM470.9 1468.2L476.6 1468.2L482.9 1477.0L477.1 1477.0ZM487.5 1479.1L487.5 1484.9L480.0 1479.9L480.0 1474.1ZM477.6 1477.0a2.44 2.44 0 1 1 4.87 0a2.44 2.44 0 1 1 -4.87 0ZM505.0 1479.6L505.0 1485.4L487.5 1484.9L487.5 1479.1ZM525.0 1478.6L525.0 1484.4L505.0 1485.4L505.0 1479.6ZM530.0 1475.3L530.0 1481.2L525.0 1484.4L525.0 1478.6ZM540.0 1469.1L540.0 1474.9L530.0 1481.2L530.0 1475.3ZM551.2 1466.1L551.2 1471.9L540.0 1474.9L540.0 1469.1ZM595.0 1466.1L595.0 1471.9L551.2 1471.9L551.2 1466.1ZM598.8 1469.1L598.8 1474.9L595.0 1471.9L595.0 1466.1ZM630.0 1469.1L630.0 1474.9L598.8 1474.9L598.8 1469.1ZM629.6 1469.0L635.4 1469.0L632.9 1472.0L627.1 1472.0ZM627.6 1472.0a2.44 2.44 0 1 1 4.87 0a2.44 2.44 0 1 1 -4.87 0ZM640.0 1465.3L640.0 1471.2L632.5 1471.9L632.5 1466.1ZM630.1 1469.0a2.44 2.44 0 1 1 4.87 0a2.44 2.44 0 1 1 -4.87 0ZM645.0 1462.8L645.0 1468.7L640.0 1471.2L640.0 1465.3ZM652.5 1461.1L652.5 1466.9L645.0 1468.7L645.0 1462.8ZM657.5 1457.8L657.5 1463.7L652.5 1466.9L652.5 1461.1ZM665.0 1455.3L665.0 1461.2L657.5 1463.7L657.5 1457.8ZM675.0 1452.8L675.0 1458.7L665.0 1461.2L665.0 1455.3ZM685.0 1449.6L685.0 1455.4L675.0 1458.7L675.0 1452.8ZM695.0 1448.6L695.0 1454.4L685.0 1455.4L685.0 1449.6ZM700.0 1446.1L700.0 1451.9L695.0 1454.4L695.0 1448.6ZM730.0 1446.1L730.0 1451.9L700.0 1451.9L700.0 1446.1ZM733.8 1443.6L733.8 1449.4L730.0 1451.9L730.0 1446.1ZM741.2 1443.6L741.2 1449.4L733.8 1449.4L733.8 1443.6ZM738.4 1446.5L744.1 1446.5L746.6 1449.5L740.9 1449.5ZM738.8 1446.5a2.44 2.44 0 1 1 4.87 0a2.44 2.44 0 1 1 -4.87 0ZM822.5 1446.6L822.5 1452.4L743.8 1452.4L743.8 1446.6ZM741.3 1449.5a2.44 2.44 0 1 1 4.87 0a2.44 2.44 0 1 1 -4.87 0ZM827.5 1443.6L827.5 1449.4L822.5 1452.4L822.5 1446.6ZM855.0 1443.6L855.0 1449.4L827.5 1449.4L827.5 1443.6ZM860.0 1441.1L860.0 1446.9L855.0 1449.4L855.0 1443.6ZM868.0 1441.1L868.0 1446.9L860.0 1446.9L860.0 1441.1Z" fill="#000" stroke="none"/></g>
<g stroke="#000" stroke-width="5.8" fill="none" stroke-linecap="butt">
<rect x="191.00" y="56.05" width="679.60" height="1461.15"/>
<line x1="191.00" y1="542.20" x2="870.60" y2="542.20"/>
<line x1="191.00" y1="1028.60" x2="870.60" y2="1028.60"/>
<line x1="250.05" y1="56.05" x2="250.05" y2="75.85"/>
<line x1="250.05" y1="522.40" x2="250.05" y2="562.00"/>
<line x1="250.05" y1="1008.80" x2="250.05" y2="1049.40"/>
<line x1="250.05" y1="1497.40" x2="250.05" y2="1517.20"/>
<line x1="362.50" y1="56.05" x2="362.50" y2="75.85"/>
<line x1="362.50" y1="522.40" x2="362.50" y2="562.00"/>
<line x1="362.50" y1="1008.80" x2="362.50" y2="1049.40"/>
<line x1="362.50" y1="1497.40" x2="362.50" y2="1517.20"/>
<line x1="474.80" y1="56.05" x2="474.80" y2="75.85"/>
<line x1="474.80" y1="522.40" x2="474.80" y2="562.00"/>
<line x1="474.80" y1="1008.80" x2="474.80" y2="1049.40"/>
<line x1="474.80" y1="1497.40" x2="474.80" y2="1517.20"/>
<line x1="586.90" y1="56.05" x2="586.90" y2="75.85"/>
<line x1="586.90" y1="522.40" x2="586.90" y2="562.00"/>
<line x1="586.90" y1="1008.80" x2="586.90" y2="1049.40"/>
<line x1="586.90" y1="1497.40" x2="586.90" y2="1517.20"/>
<line x1="699.20" y1="56.05" x2="699.20" y2="75.85"/>
<line x1="699.20" y1="522.40" x2="699.20" y2="562.00"/>
<line x1="699.20" y1="1008.80" x2="699.20" y2="1049.40"/>
<line x1="699.20" y1="1497.40" x2="699.20" y2="1517.20"/>
<line x1="814.50" y1="56.05" x2="814.50" y2="75.85"/>
<line x1="814.50" y1="522.40" x2="814.50" y2="562.00"/>
<line x1="814.50" y1="1008.80" x2="814.50" y2="1049.40"/>
<line x1="814.50" y1="1497.40" x2="814.50" y2="1517.20"/>
<line x1="306.20" y1="56.05" x2="306.20" y2="92.45"/>
<line x1="306.20" y1="505.80" x2="306.20" y2="578.60"/>
<line x1="306.20" y1="992.20" x2="306.20" y2="1065.00"/>
<line x1="306.20" y1="1480.80" x2="306.20" y2="1517.20"/>
<line x1="418.60" y1="56.05" x2="418.60" y2="92.45"/>
<line x1="418.60" y1="505.80" x2="418.60" y2="578.60"/>
<line x1="418.60" y1="992.20" x2="418.60" y2="1065.00"/>
<line x1="418.60" y1="1480.80" x2="418.60" y2="1517.20"/>
<line x1="531.00" y1="56.05" x2="531.00" y2="92.45"/>
<line x1="531.00" y1="505.80" x2="531.00" y2="578.60"/>
<line x1="531.00" y1="992.20" x2="531.00" y2="1065.00"/>
<line x1="531.00" y1="1480.80" x2="531.00" y2="1517.20"/>
<line x1="643.20" y1="56.05" x2="643.20" y2="92.45"/>
<line x1="643.20" y1="505.80" x2="643.20" y2="578.60"/>
<line x1="643.20" y1="992.20" x2="643.20" y2="1065.00"/>
<line x1="643.20" y1="1480.80" x2="643.20" y2="1517.20"/>
<line x1="755.50" y1="56.05" x2="755.50" y2="92.45"/>
<line x1="755.50" y1="505.80" x2="755.50" y2="578.60"/>
<line x1="755.50" y1="992.20" x2="755.50" y2="1065.00"/>
<line x1="755.50" y1="1480.80" x2="755.50" y2="1517.20"/>
<line x1="191.00" y1="86.90" x2="213.40" y2="86.90"/>
<line x1="870.60" y1="86.90" x2="848.40" y2="86.90"/>
<line x1="191.00" y1="216.50" x2="213.40" y2="216.50"/>
<line x1="870.60" y1="216.50" x2="848.40" y2="216.50"/>
<line x1="191.00" y1="348.20" x2="213.40" y2="348.20"/>
<line x1="870.60" y1="348.20" x2="848.40" y2="348.20"/>
<line x1="191.00" y1="477.50" x2="213.40" y2="477.50"/>
<line x1="870.60" y1="477.50" x2="848.40" y2="477.50"/>
<line x1="191.00" y1="151.70" x2="230.20" y2="151.70"/>
<line x1="870.60" y1="151.70" x2="832.00" y2="151.70"/>
<line x1="191.00" y1="283.50" x2="230.20" y2="283.50"/>
<line x1="870.60" y1="283.50" x2="832.00" y2="283.50"/>
<line x1="191.00" y1="412.90" x2="230.20" y2="412.90"/>
<line x1="870.60" y1="412.90" x2="832.00" y2="412.90"/>
<line x1="191.00" y1="575.80" x2="213.40" y2="575.80"/>
<line x1="870.60" y1="575.80" x2="848.40" y2="575.80"/>
<line x1="191.00" y1="705.20" x2="213.40" y2="705.20"/>
<line x1="870.60" y1="705.20" x2="848.40" y2="705.20"/>
<line x1="191.00" y1="834.40" x2="213.40" y2="834.40"/>
<line x1="870.60" y1="834.40" x2="848.40" y2="834.40"/>
<line x1="191.00" y1="963.90" x2="213.40" y2="963.90"/>
<line x1="870.60" y1="963.90" x2="848.40" y2="963.90"/>
<line x1="191.00" y1="640.50" x2="230.20" y2="640.50"/>
<line x1="870.60" y1="640.50" x2="832.00" y2="640.50"/>
<line x1="191.00" y1="769.70" x2="230.20" y2="769.70"/>
<line x1="870.60" y1="769.70" x2="832.00" y2="769.70"/>
<line x1="191.00" y1="899.10" x2="230.20" y2="899.10"/>
<line x1="870.60" y1="899.10" x2="832.00" y2="899.10"/>
<line x1="191.00" y1="1062.00" x2="213.40" y2="1062.00"/>
<line x1="870.60" y1="1062.00" x2="848.40" y2="1062.00"/>
<line x1="191.00" y1="1191.30" x2="213.40" y2="1191.30"/>
<line x1="870.60" y1="1191.30" x2="848.40" y2="1191.30"/>
<line x1="191.00" y1="1320.60" x2="213.40" y2="1320.60"/>
<line x1="870.60" y1="1320.60" x2="848.40" y2="1320.60"/>
<line x1="191.00" y1="1452.50" x2="213.40" y2="1452.50"/>
<line x1="870.60" y1="1452.50" x2="848.40" y2="1452.50"/>
<line x1="191.00" y1="1126.80" x2="230.20" y2="1126.80"/>
<line x1="870.60" y1="1126.80" x2="832.00" y2="1126.80"/>
<line x1="191.00" y1="1256.00" x2="230.20" y2="1256.00"/>
<line x1="870.60" y1="1256.00" x2="832.00" y2="1256.00"/>
<line x1="191.00" y1="1387.80" x2="230.20" y2="1387.80"/>
<line x1="870.60" y1="1387.80" x2="832.00" y2="1387.80"/>
</g>
<g font-size="61" text-anchor="end">
<text x="178.5" y="175.9">6</text>
<text x="178.5" y="305.9">4</text>
<text x="178.5" y="435.1">2</text>
<text x="178.5" y="664.7">6</text>
<text x="178.5" y="792.0">4</text>
<text x="178.5" y="924.1">2</text>
<text x="178.5" y="1151.3">6</text>
<text x="178.5" y="1280.8">4</text>
<text x="178.5" y="1410.5">2</text>
</g>
<g font-size="61" text-anchor="middle">
<clipPath id="one"><rect x="170" y="1520" width="60" height="52.3"/><rect x="196.0" y="1572" width="8.9" height="12"/></clipPath>
<text x="198.8" y="1580" clip-path="url(#one)">1</text>
<text x="308.0" y="1580">2</text>
<text x="420.0" y="1580">3</text>
<text x="534.5" y="1580">4</text>
<text x="648.0" y="1580">5</text>
<text x="760.0" y="1580">6</text>
<text x="872.5" y="1580">7</text>
</g>
<text x="549" y="1663" font-size="60" text-anchor="middle">r (Å)</text>
<text transform="translate(73.5,809) rotate(-90)" font-size="60" text-anchor="middle">g(r)</text>
<text x="895.5 931.3 954.5 983.6 1000.1 1028.3 1042.9 1070.9 1087.6" y="330.7 330.7 330.7 330.7 330.7 330.7 330.7 330.7 330.7" font-size="48.5">Azothio-a</text>
<text x="892.5 928.3 951.5 980.6 997.1 1025.3 1039.9 1067.9 1085.9" y="808.6 808.6 808.6 808.6 808.6 808.6 808.6 808.6 808.6" font-size="48.5">Azothio-b</text>
<text x="886.8 922.6 945.8 974.9 991.4 1019.6 1034.2 1062.2 1080.8" y="1258.3 1258.3 1258.3 1258.3 1258.3 1258.3 1258.3 1258.3 1258.3" font-size="48.5">Azothio-c</text>
<line x1="929.7" y1="78.4" x2="1005.7" y2="78.4" stroke="#f00" stroke-width="5.8"/>
<line x1="929.7" y1="140.3" x2="1005.7" y2="140.3" stroke="#000" stroke-width="5.8"/>
<text x="1038.0 1073.5 1106.5 1121.0 1134.9 1147.6 1186.8 1212.7 1257.6 1292.1" y="95.2 95.2 95.2 95.2 95.2 95.2 97.4 95.2 95.2 95.2" font-size="50.0">HN...O_WAT</text>
<text x="1038.0 1073.5 1106.5 1121.0 1134.9 1147.6 1186.8 1211.9 1247.3 1287.6 1319.3" y="157.0 157.0 157.0 157.0 157.0 157.0 159.2 157.0 157.0 157.0 157.0" font-size="50.0">HN...O_DMSO</text>
</svg>
</body></html>
